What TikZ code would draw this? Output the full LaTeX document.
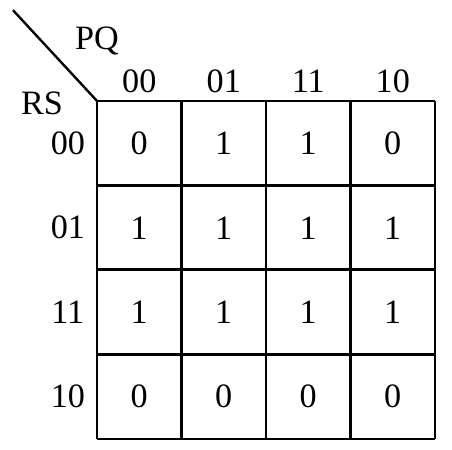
\documentclass[tikz,border=0pt]{standalone}
\usepackage{fontspec}
\setmainfont{Liberation Serif}
\begin{document}
\begin{tikzpicture}
            \tikzset{
                kline/.style={line width=2pt},
                kval/.style={font=\fontsize{23}{27}\selectfont, inner sep=0pt},
            }
            % Fix the margins
            \useasboundingbox (-2.296,-0.26) rectangle (8.402,10.39);

            % Define some coordinates
            \coordinate (corner) at (0,8);
            \coordinate (tip) at (-1.99,10.15);

            % Draw the map
            \draw[kline] (0,0) grid[step=2] (8,8);

            % Draw the diagonal
            \draw[kline, line width=1.6pt] (tip) -- (corner);

            % Label the variables
            \node[kval] (pq) at (0,9.42) {PQ};
            \node[kval] (rs) at (-1.30,7.95) {RS};

            % Column and row headers
            \foreach \code [count=\i] in {00,01,11,10} {
                \node[kval] (col\i) at (2*\i-1,8.46) {\code};
                \node[kval] (row\i) at (-0.69,9-2*\i) {\code};
            }

            % Fill in the cells
            \foreach \vals [count=\r] in {{0,1,1,0},{1,1,1,1},{1,1,1,1},{0,0,0,0}} {
                \foreach \v [count=\c] in \vals {
                    \node[kval] (cell\r\c) at (2*\c-1,9-2*\r) {\v};
                }
            }
        \end{tikzpicture}
\end{document}
